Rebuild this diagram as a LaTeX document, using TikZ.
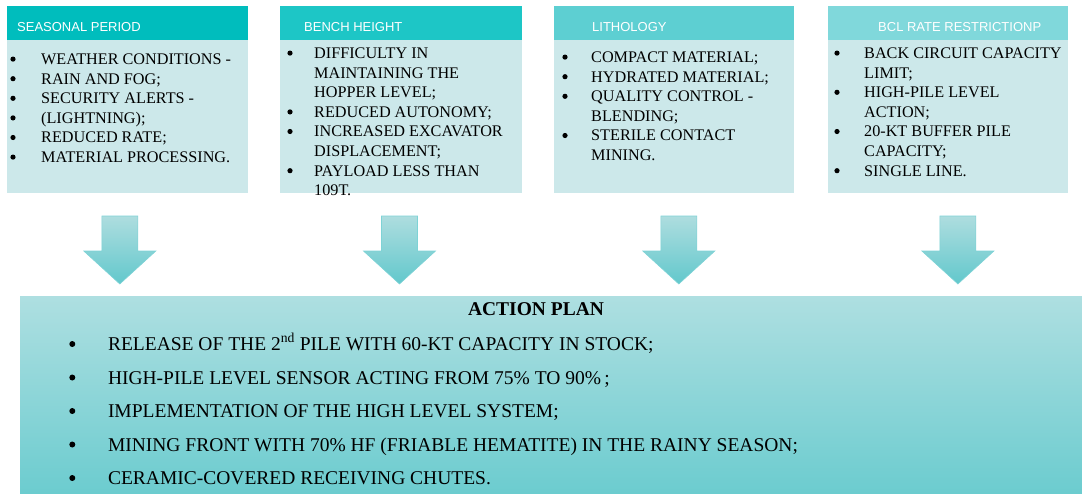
\documentclass[tikz,border=0pt]{standalone}
\usepackage{fontspec}
\setmainfont{Liberation Serif}
\newfontfamily\hdrfont{Liberation Sans}
\definecolor{hA}{HTML}{00BDBD}
\definecolor{hB}{HTML}{1DC6C6}
\definecolor{hC}{HTML}{5DCFD2}
\definecolor{hD}{HTML}{80D8DB}
\definecolor{bodyc}{HTML}{CCE8EA}
\definecolor{arrtop}{HTML}{AEDDDF}
\definecolor{arrbot}{HTML}{62C8CC}
\definecolor{arrline}{HTML}{7ED3D6}
\definecolor{aptop}{HTML}{AEDFE1}
\definecolor{apbot}{HTML}{6CCCCF}
\tikzset{
  hdrbox/.style={fill=#1, draw=none, minimum height=34pt, anchor=north west, inner sep=0pt},
  bodybox/.style={fill=bodyc, draw=none, minimum height=153pt, anchor=north west, inner sep=0pt},
  hdrtext/.style={text=white, font=\hdrfont\fontsize{13}{15}\selectfont, anchor=base west, inner sep=0pt},
  listtext/.style={font=\fontsize{16.2}{19.6}\selectfont, anchor=base west, inner sep=0pt, align=left},
  aplist/.style={font=\fontsize{19.5}{33.5}\selectfont, anchor=base west, inner sep=0pt, align=left},
  blockarrow/.style={top color=arrtop, bottom color=arrbot, draw=arrline, line width=0.6pt, line join=miter},
  apbox/.style={top color=aptop, bottom color=apbot, draw=none, anchor=north west, inner sep=0pt, minimum width=1062pt, minimum height=197pt},
  bulletdot/.style={fill=black, draw=none}
}
\newcommand\drawblockarrow[2]{%
  \path[blockarrow] (#1-18,216) -- (#1+18,216) -- (#1+18,251) -- (#1+36,251)
    -- (#1,284) -- (#1-36,251) -- (#1-18,251) -- cycle;
  \coordinate (#2) at (#1,284);}
\begin{document}
\begin{tikzpicture}[x=1pt,y=-1pt]
\useasboundingbox (0,0) rectangle (1082,493);
% header bars
\node[hdrbox=hA, minimum width=241pt] (h1) at (7,6) {};
\node[hdrbox=hB, minimum width=242pt] (h2) at (280,6) {};
\node[hdrbox=hC, minimum width=240pt] (h3) at (554,6) {};
\node[hdrbox=hD, minimum width=240pt] (h4) at (828,6) {};
% bodies
\node[bodybox, minimum width=241pt] (b1) at (7,40) {};
\node[bodybox, minimum width=242pt] (b2) at (280,40) {};
\node[bodybox, minimum width=240pt] (b3) at (554,40) {};
\node[bodybox, minimum width=240pt] (b4) at (828,40) {};
% header texts
\node[hdrtext] (t1) at (17,31.7) {SEASONAL PERIOD};
\node[hdrtext] (t2) at (304,31.7) {BENCH HEIGHT};
\node[hdrtext] (t3) at (592,31.7) {LITHOLOGY};
\node[hdrtext] (t4) at (878,31.7) {BCL RATE RESTRICTIONP};
% lists
\node[listtext] (l1) at (41,64.5) {\begin{tabular}[t]{@{}l@{}}
WEATHER CONDITIONS -\\
RAIN AND FOG;\\
SECURITY ALERTS -\\
(LIGHTNING);\\
REDUCED RATE;\\
MATERIAL PROCESSING.
\end{tabular}};
\node[listtext] (l2) at (314,58.5) {\begin{tabular}[t]{@{}l@{}}
DIFFICULTY IN\\
MAINTAINING THE\\
HOPPER LEVEL;\\
REDUCED AUTONOMY;\\
INCREASED EXCAVATOR\\
DISPLACEMENT;\\
PAYLOAD LESS THAN\\
109T.
\end{tabular}};
\node[listtext] (l3) at (591,62.5) {\begin{tabular}[t]{@{}l@{}}
COMPACT MATERIAL;\\
HYDRATED MATERIAL;\\
QUALITY CONTROL -\\
BLENDING;\\
STERILE CONTACT\\
MINING.
\end{tabular}};
\node[listtext] (l4) at (864,58.5) {\begin{tabular}[t]{@{}l@{}}
BACK CIRCUIT CAPACITY\\
LIMIT;\\
HIGH-PILE LEVEL\\
ACTION;\\
20-KT BUFFER PILE\\
CAPACITY;\\
SINGLE LINE.
\end{tabular}};
% bullets of the boxes
\foreach \k in {0,...,5} \fill[bulletdot] (13,64.5-5.4+19.6*\k) circle (2.6);
\foreach \k in {0,3,4,6} \fill[bulletdot] (290,58.5-5.4+19.6*\k) circle (2.6);
\foreach \k in {0,1,2,4} \fill[bulletdot] (565,62.5-5.4+19.6*\k) circle (2.6);
\foreach \k in {0,2,4,6} \fill[bulletdot] (837,58.5-5.4+19.6*\k) circle (2.6);
% action plan box
\node[apbox] (ap) at (20,296) {};
\node[font=\bfseries\fontsize{19.5}{22}\selectfont, anchor=base, inner sep=0pt] (aptitle) at (536,315) {ACTION PLAN};
\node[aplist] (apl) at (107.8,350.5) {\begin{tabular}[t]{@{}l@{}}
RELEASE OF THE 2\textsuperscript{nd} PILE WITH 60-KT CAPACITY IN STOCK;\\
HIGH-PILE LEVEL SENSOR ACTING FROM 75\% TO 90\%\,;\\
IMPLEMENTATION OF THE HIGH LEVEL SYSTEM;\\
MINING FRONT WITH 70\% HF (FRIABLE HEMATITE) IN THE RAINY SEASON;\\
CERAMIC-COVERED RECEIVING CHUTES.
\end{tabular}};
\foreach \k in {0,...,4} \fill[bulletdot] (72.3,350.5-6.5+33.5*\k) circle (3);
% block arrows
\drawblockarrow{119.8}{a1}
\drawblockarrow{399.5}{a2}
\drawblockarrow{678.8}{a3}
\drawblockarrow{957.9}{a4}
\end{tikzpicture}
\end{document}
